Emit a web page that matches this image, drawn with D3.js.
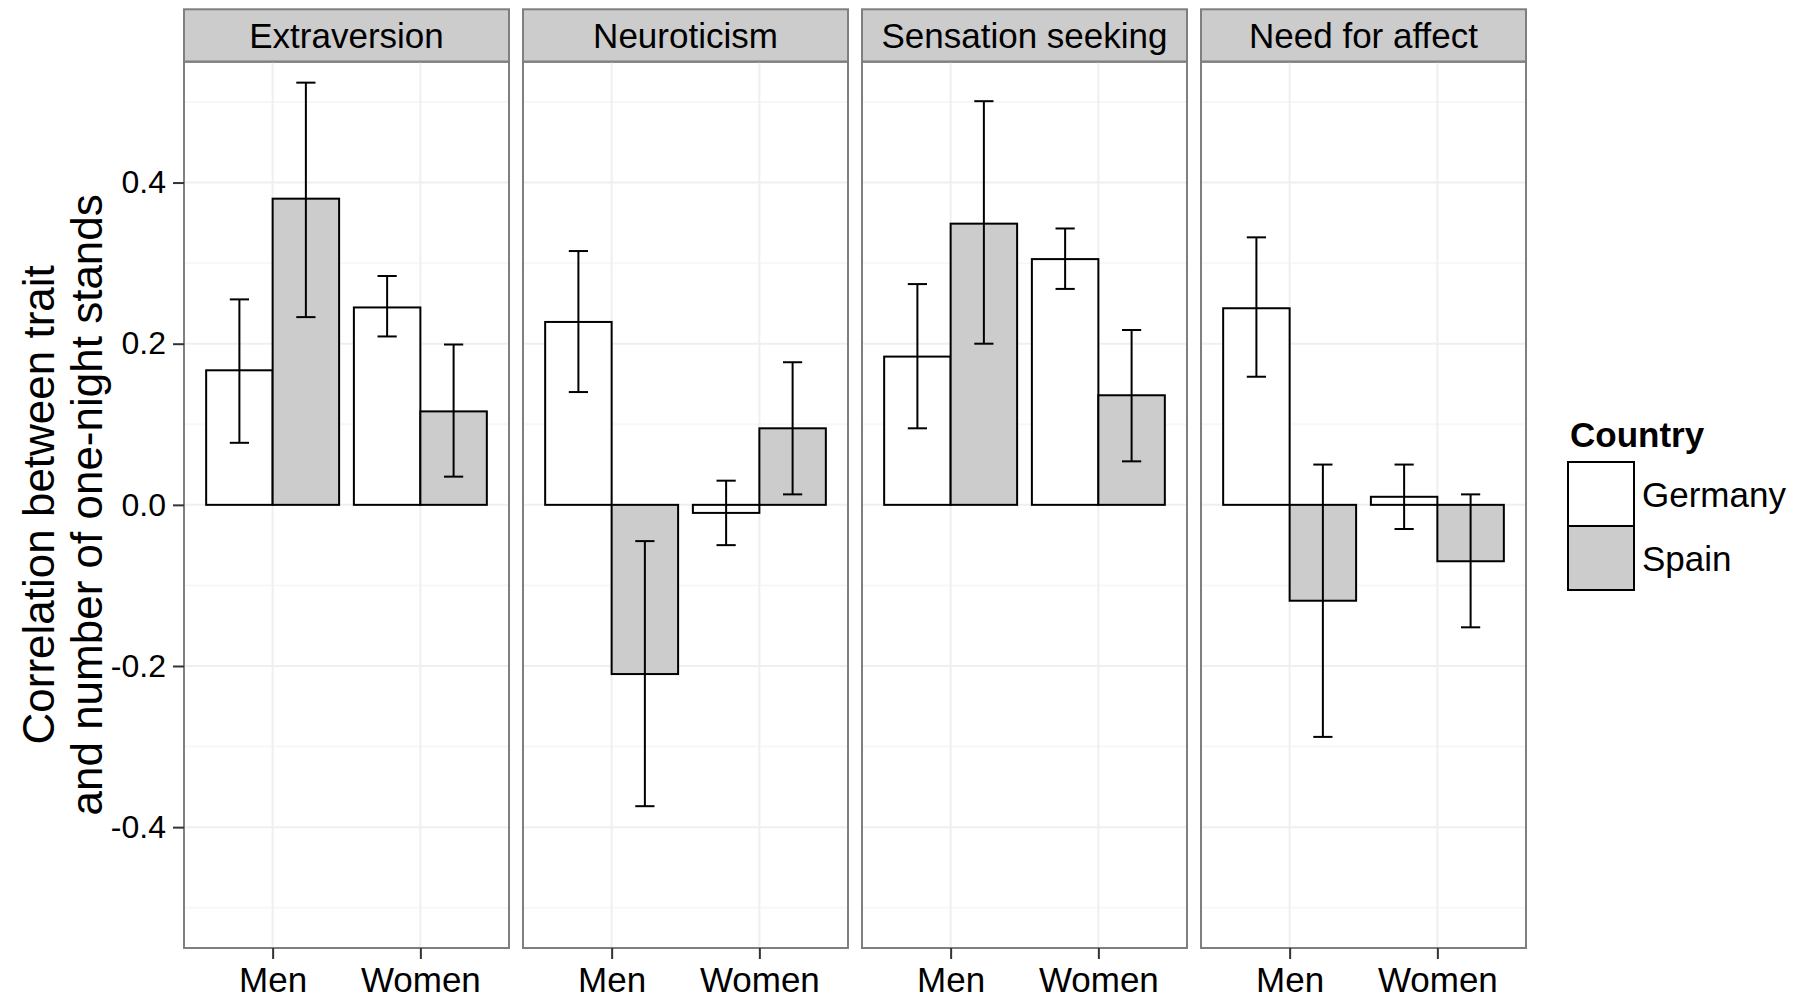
<!DOCTYPE html>
<html>
<head>
<meta charset="utf-8">
<script src="https://cdn.jsdelivr.net/npm/d3@7"></script>
<style>
  body { margin: 0; background: #fff; }
  text { font-family: "Liberation Sans", Arial, sans-serif; }
</style>
</head>
<body>
<div id="chart"></div>
<script>
// Facets, x categories and fill groups
let traits = ["Extraversion", "Neuroticism", "Sensation seeking", "Need for affect"]
let sexes = ["Men", "Women"]
let countries = ["Germany", "Spain"]

// Correlations per trait, [Men, Women]
let germanyR = [[0.167, 0.245], [0.227, -0.010], [0.184, 0.305], [0.244, 0.010]]
let germanyLow = [[0.077, 0.209], [0.140, -0.050], [0.095, 0.268], [0.159, -0.030]]
let germanyHigh = [[0.255, 0.284], [0.315, 0.030], [0.274, 0.343], [0.332, 0.050]]

let spainR = [[0.380, 0.116], [-0.210, 0.095], [0.349, 0.136], [-0.119, -0.070]]
let spainLow = [[0.233, 0.035], [-0.374, 0.013], [0.200, 0.054], [-0.288, -0.152]]
let spainHigh = [[0.524, 0.199], [-0.045, 0.177], [0.501, 0.217], [0.050, 0.013]]

let yTicks = [-0.4, -0.2, 0.0, 0.2, 0.4]
let yMinor = [-0.5, -0.3, -0.1, 0.1, 0.3, 0.5]

let fills = { Germany: "#ffffff", Spain: "#cccccc" }

let width = 1794
let height = 1000

let panelLeft = 184
let panelW = 325
let panelStep = 339
let stripTop = 9.3
let panelTop = 61.7
let panelBottom = 948

let svg = d3.select("#chart").append("svg")
    .attr("width", width)
    .attr("height", height)

let y = d3.scaleLinear().domain([-0.55, 0.55]).range([panelBottom, panelTop])

let x = d3.scalePoint().domain(sexes).range([0, panelW]).padding(0.6)
let step = x.step()
let dodge = d3.scaleBand().domain(countries).range([-0.45 * step, 0.45 * step])
let capHalf = 0.065 * step

traits.forEach((trait, t) => {
  let g = svg.append("g")
      .attr("transform", "translate(" + (panelLeft + t * panelStep) + ",0)")

  // strip
  g.append("rect")
      .attr("x", 0).attr("y", stripTop)
      .attr("width", panelW).attr("height", panelTop - stripTop)
      .attr("fill", "#cccccc").attr("stroke", "#7f7f7f").attr("stroke-width", 2)
  g.append("text")
      .attr("x", panelW / 2).attr("y", (stripTop + panelTop) / 2)
      .attr("dy", "0.36em")
      .attr("text-anchor", "middle")
      .style("font-size", "35px")
      .text(trait)

  // grid
  g.selectAll(".minor").data(yMinor).enter().append("line")
      .attr("x1", 0).attr("x2", panelW)
      .attr("y1", d => y(d)).attr("y2", d => y(d))
      .attr("stroke", "#f7f7f7").attr("stroke-width", 2)
  g.selectAll(".major").data(yTicks).enter().append("line")
      .attr("x1", 0).attr("x2", panelW)
      .attr("y1", d => y(d)).attr("y2", d => y(d))
      .attr("stroke", "#efefef").attr("stroke-width", 2)
  g.selectAll(".vmajor").data(sexes).enter().append("line")
      .attr("x1", d => x(d)).attr("x2", d => x(d))
      .attr("y1", panelTop).attr("y2", panelBottom)
      .attr("stroke", "#efefef").attr("stroke-width", 2)

  // bars and error bars
  sexes.forEach((sex, s) => {
    let rows = [
      { country: "Germany", r: germanyR[t][s], lo: germanyLow[t][s], hi: germanyHigh[t][s] },
      { country: "Spain", r: spainR[t][s], lo: spainLow[t][s], hi: spainHigh[t][s] }
    ]
    rows.forEach((d) => {
      let x0 = x(sex) + dodge(d.country)
      let cx = x0 + dodge.bandwidth() / 2
      g.append("rect")
          .attr("x", x0)
          .attr("y", y(Math.max(0, d.r)))
          .attr("width", dodge.bandwidth())
          .attr("height", Math.abs(y(d.r) - y(0)))
          .attr("fill", fills[d.country])
          .attr("stroke", "#000").attr("stroke-width", 2)
      g.append("line")
          .attr("x1", cx).attr("x2", cx)
          .attr("y1", y(d.lo)).attr("y2", y(d.hi))
          .attr("stroke", "#000").attr("stroke-width", 2)
      ;[d.lo, d.hi].forEach((v) => {
        g.append("line")
            .attr("x1", cx - capHalf).attr("x2", cx + capHalf)
            .attr("y1", y(v)).attr("y2", y(v))
            .attr("stroke", "#000").attr("stroke-width", 2)
      })
    })
  })

  // panel border
  g.append("rect")
      .attr("x", 0).attr("y", panelTop)
      .attr("width", panelW).attr("height", panelBottom - panelTop)
      .attr("fill", "none").attr("stroke", "#7f7f7f").attr("stroke-width", 2)

  // x axis
  let xAxis = g.append("g")
      .attr("transform", "translate(0," + panelBottom + ")")
      .call(d3.axisBottom(x).tickSize(11).tickPadding(8))
  xAxis.select(".domain").remove()
  xAxis.selectAll(".tick line").attr("stroke", "#333").attr("stroke-width", 2)
  xAxis.selectAll(".tick text").style("font-size", "35px").attr("fill", "#000")
})

// y axis on the first panel
let yAxis = svg.append("g")
    .attr("transform", "translate(" + panelLeft + ",0)")
    .call(d3.axisLeft(y).tickValues(yTicks).tickSize(11).tickPadding(7)
      .tickFormat(d => d.toFixed(1)))
yAxis.select(".domain").remove()
yAxis.selectAll(".tick line").attr("stroke", "#333").attr("stroke-width", 2)
yAxis.selectAll(".tick text").style("font-size", "32px").attr("fill", "#000")

// y title, two lines
let yTitle = svg.append("text")
    .attr("transform", "translate(38," + (panelTop + panelBottom) / 2 + ") rotate(-90)")
    .attr("text-anchor", "middle")
    .style("font-size", "44px")
yTitle.append("tspan").attr("x", 0).attr("dy", "0.36em").text("Correlation between trait")
yTitle.append("tspan").attr("x", 0).attr("dy", "1.1em").text("and number of one-night stands")

// legend
let legend = svg.append("g").attr("transform", "translate(1568,0)")
legend.append("text")
    .attr("x", 2).attr("y", 447)
    .style("font-size", "35px").style("font-weight", "bold")
    .text("Country")
countries.forEach((c, i) => {
  legend.append("rect")
      .attr("x", 0).attr("y", 462 + i * 64)
      .attr("width", 66).attr("height", 64)
      .attr("fill", fills[c]).attr("stroke", "#000").attr("stroke-width", 2)
  legend.append("text")
      .attr("x", 74).attr("y", 462 + i * 64 + 32)
      .attr("dy", "0.36em")
      .style("font-size", "35px")
      .text(c)
})
</script>
</body>
</html>
